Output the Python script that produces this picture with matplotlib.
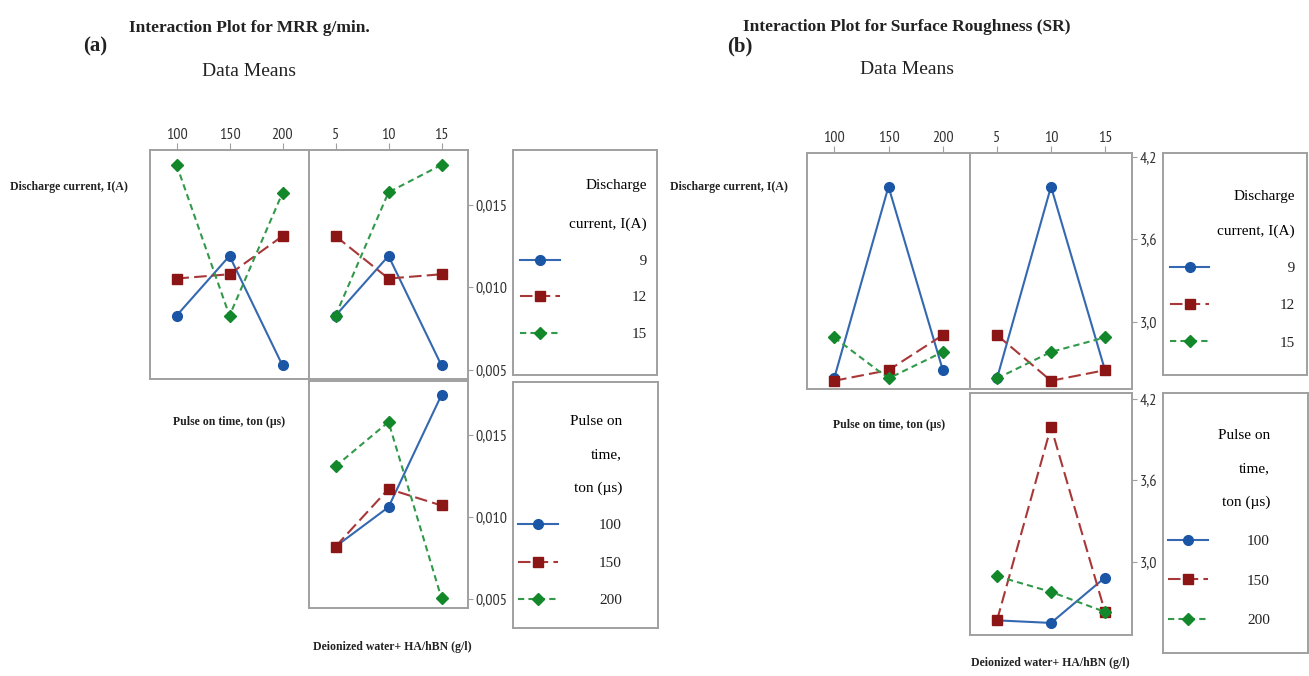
import matplotlib
matplotlib.use('Agg')
import matplotlib.pyplot as plt
from matplotlib.ticker import FuncFormatter

# factor levels
ton_levels = [100, 150, 200]          # pulse on time, us
conc_levels = [5, 10, 15]             # HA/hBN concentration, g/l
current_levels = [9, 12, 15]          # discharge current, A

# MRR (g/min) data means, one row per trace level
mrr_current_ton = [[0.00827, 0.01189, 0.00526],
                   [0.01052, 0.01078, 0.01309],
                   [0.01741, 0.00827, 0.01570]]
mrr_current_conc = [[0.00827, 0.01189, 0.00526],
                    [0.01309, 0.01052, 0.01078],
                    [0.00827, 0.01574, 0.01740]]
mrr_ton_conc = [[0.00819, 0.01060, 0.01745],
                [0.00819, 0.01171, 0.01070],
                [0.01309, 0.01580, 0.00504]]

# surface roughness data means
sr_current_ton = [[2.587, 3.985, 2.647],
                  [2.570, 2.647, 2.903],
                  [2.886, 2.587, 2.780]]
sr_current_conc = [[2.587, 3.985, 2.647],
                   [2.903, 2.570, 2.647],
                   [2.587, 2.780, 2.886]]
sr_ton_conc = [[2.568, 2.549, 2.884],
               [2.568, 3.995, 2.630],
               [2.894, 2.778, 2.630]]

W, H = 1309, 676
fig = plt.figure(figsize=(W / 100, H / 100), dpi=100)
fig.patch.set_facecolor('white')

SERIF = ['Liberation Serif', 'DejaVu Serif']
TICKFONT = ['PT Sans Narrow', 'Liberation Sans Narrow', 'DejaVu Sans']
EDGE = '#a0a0a0'

styles = [
    dict(color='#3468b0', ls='-', lw=1.5, marker='o', ms=7,
         mfc='#1b55a5', mec='#1b55a5'),
    dict(color='#a83838', ls=(0, (6, 2.5)), lw=1.5, marker='s', ms=6.5,
         mfc='#8c1515', mec='#8c1515'),
    dict(color='#33994a', ls=(0, (3, 2)), lw=1.5, marker='D', ms=6,
         mfc='#13882a', mec='#13882a'),
]


def box(x0, y0, x1, y1):
    # axes placed by pixel edges measured from the top-left corner
    ax = fig.add_axes([x0 / W, 1 - y1 / H, (x1 - x0) / W, (y1 - y0) / H])
    for s in ax.spines.values():
        s.set_color(EDGE)
        s.set_linewidth(1.4)
    ax.set_xticks([])
    ax.set_yticks([])
    return ax


def cell(ax, x, series, xlim, ylim, xticks=False, yticks=None, fmt=None):
    lines = []
    for ys, st in zip(series, styles):
        lines += ax.plot(x, ys, **st)
    ax.set_xlim(*xlim)
    ax.set_ylim(*ylim)
    if xticks:
        ax.xaxis.tick_top()
        ax.set_xticks(x)
        ax.tick_params(axis='x', direction='out', length=5, pad=1,
                       color=EDGE, labelcolor='#333333')
    if yticks is not None:
        ax.yaxis.tick_right()
        ax.set_yticks(yticks)
        ax.yaxis.set_major_formatter(FuncFormatter(fmt))
        ax.tick_params(axis='y', direction='out', length=3.5, pad=2,
                       color=EDGE, labelcolor='#333333')
    for lab in ax.get_xticklabels() + ax.get_yticklabels():
        lab.set_family(TICKFONT)
        lab.set_fontsize(11.5)
    return lines


def legend(rect, handles, labels, title, anchor, title_ls, spacing, textpad):
    ax = box(*rect)
    leg = ax.legend(handles, labels, title=title, loc='upper right',
                    bbox_to_anchor=(anchor[0] / W, 1 - anchor[1] / H),
                    bbox_transform=fig.transFigure, frameon=False,
                    borderpad=0, borderaxespad=0, handlelength=2.6,
                    handletextpad=textpad, labelspacing=spacing,
                    alignment='right', numpoints=1,
                    prop=dict(family=SERIF, size=11),
                    title_fontproperties=dict(family=SERIF, size=11))
    leg.get_title().set_multialignment('right')
    leg.get_title().set_linespacing(title_ls)
    for t in leg.get_texts():
        t.set_color('#222222')
    return leg


def label(x, y, s, **kw):
    fig.text(x / W, 1 - y / H, s, family=SERIF, color='#222222', **kw)


fmt_mrr = lambda v, _: f'{v:.3f}'.replace('.', ',')
fmt_sr = lambda v, _: f'{v:.1f}'.replace('.', ',')
cur_labels = ['\u20079', '12', '15']
ton_labels = [str(v) for v in ton_levels]

# ---------------- (a) MRR ----------------
mrr_ylim = (0.00444, 0.0183)
ax = box(150, 150, 309, 379)
h_cur = cell(ax, ton_levels, mrr_current_ton, (75, 225), mrr_ylim, xticks=True)
ax = box(309, 150, 468, 379)
cell(ax, conc_levels, mrr_current_conc, (2.5, 17.5), mrr_ylim, xticks=True,
     yticks=[0.005, 0.010, 0.015], fmt=fmt_mrr)
ax = box(309, 381, 468, 608)
h_ton = cell(ax, conc_levels, mrr_ton_conc, (2.5, 17.5), mrr_ylim,
             yticks=[0.005, 0.010, 0.015], fmt=fmt_mrr)

legend((513, 150, 657, 375), h_cur, cur_labels, 'Discharge\ncurrent, I(A)',
       (647, 179), 3.5, 1.5, 4.7)
legend((513, 382, 658, 628), h_ton, ton_labels, 'Pulse on\ntime,\nton (µs)',
       (622, 415), 3.0, 1.55, 2.7)

label(95, 46, '(a)', fontsize=15, fontweight='bold', ha='center', va='center')
label(249, 28, 'Interaction Plot for MRR g/min.', fontsize=12.5,
      fontweight='bold', ha='center', va='center')
label(249, 71, 'Data Means', fontsize=14, ha='center', va='center')
label(10, 187, 'Discharge current, I(A)', fontsize=8.5, fontweight='bold',
      ha='left', va='center')
label(229, 422, 'Pulse on time, ton (µs)', fontsize=8.5, fontweight='bold',
      ha='center', va='center')
label(392, 647, 'Deionized water+ HA/hBN (g/l)', fontsize=8.5,
      fontweight='bold', ha='center', va='center')

# ---------------- (b) surface roughness ----------------
sr_top_ylim = (2.51, 4.23)
sr_bot_ylim = (2.46, 4.245)
ax = box(807, 153, 970, 389)
h_cur = cell(ax, ton_levels, sr_current_ton, (75, 225), sr_top_ylim, xticks=True)
ax = box(970, 153, 1132, 389)
cell(ax, conc_levels, sr_current_conc, (2.5, 17.5), sr_top_ylim, xticks=True,
     yticks=[3.0, 3.6, 4.2], fmt=fmt_sr)
ax = box(970, 393, 1132, 635)
h_ton = cell(ax, conc_levels, sr_ton_conc, (2.5, 17.5), sr_bot_ylim,
             yticks=[3.0, 3.6, 4.2], fmt=fmt_sr)

legend((1163, 153, 1307, 375), h_cur, cur_labels, 'Discharge\ncurrent, I(A)',
       (1295, 190), 3.12, 1.53, 4.6)
legend((1163, 393, 1308, 653), h_ton, ton_labels, 'Pulse on\ntime,\nton (µs)',
       (1270, 429), 3.0, 1.68, 2.55)

label(740, 46, '(b)', fontsize=15, fontweight='bold', ha='center', va='center')
label(907, 27, 'Interaction Plot for Surface Roughness (SR)', fontsize=12.5,
      fontweight='bold', ha='center', va='center')
label(907, 70, 'Data Means', fontsize=14, ha='center', va='center')
label(670, 187, 'Discharge current, I(A)', fontsize=8.5, fontweight='bold',
      ha='left', va='center')
label(889, 425, 'Pulse on time, ton (µs)', fontsize=8.5, fontweight='bold',
      ha='center', va='center')
label(1050, 663, 'Deionized water+ HA/hBN (g/l)', fontsize=8.5,
      fontweight='bold', ha='center', va='center')

fig.savefig('out.png', dpi=100)
